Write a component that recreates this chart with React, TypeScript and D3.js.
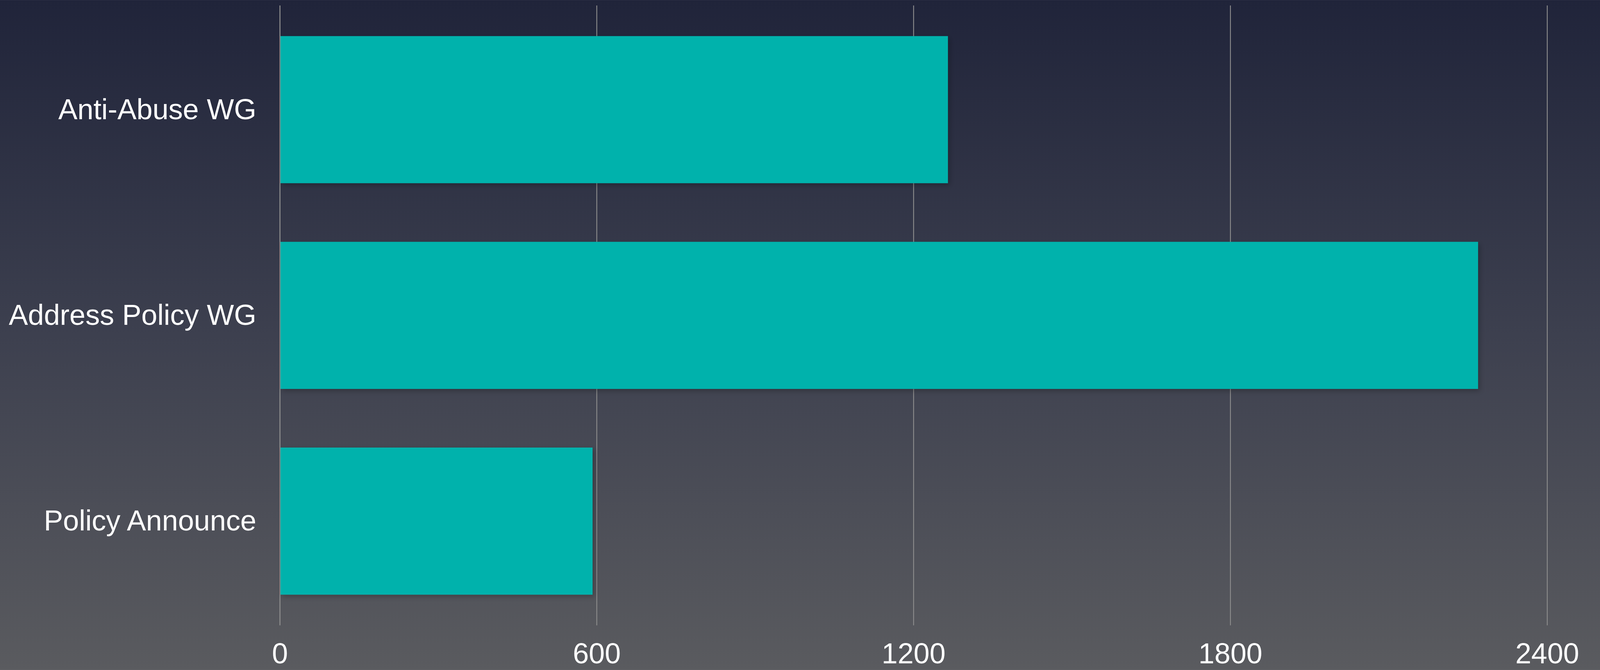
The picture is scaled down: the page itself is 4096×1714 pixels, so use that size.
import * as React from 'react';
import * as d3 from 'd3';

const categories = ['Anti-Abuse WG', 'Address Policy WG', 'Policy Announce'];
const values = [1265, 2269, 592];
const ticks = [0, 600, 1200, 1800, 2400];

// reference size; the viewBox scales it down to the window
const W = 4732;
const H = 1980;
const left = 828;
const right = 4576;
const top = 16;
const bottom = 1848;

export default function App() {
  const x = d3.scaleLinear().domain([0, 2400]).range([left, right]);
  const y = d3
    .scaleBand<string>()
    .domain(categories)
    .range([top, bottom])
    .paddingInner(0.285)
    .paddingOuter(0.149);

  return (
    <svg
      width={4096}
      height={1714}
      viewBox={`0 0 ${W} ${H}`}
      style={{position: 'absolute', left: 0, top: 0, display: 'block'}}
    >
      <defs>
        <linearGradient id="bg" x1="0" y1="0" x2="0" y2="1">
          <stop offset="0%" stopColor="#20243a" />
          <stop offset="50%" stopColor="#3d404f" />
          <stop offset="100%" stopColor="#5a5b5f" />
        </linearGradient>
        <filter id="shadow" x="-5%" y="-10%" width="110%" height="130%">
          <feDropShadow dx="5" dy="6" stdDeviation="8" floodColor="#000" floodOpacity="0.25" />
        </filter>
      </defs>
      <rect width={W} height={H} fill="url(#bg)" />

      <g>
        {ticks.map(t => (
          <line
            key={t}
            x1={x(t)}
            x2={x(t)}
            y1={top}
            y2={bottom}
            stroke="#8c8c8c"
            strokeWidth={t === 0 ? 3 : 2.6}
          />
        ))}
      </g>

      <g filter="url(#shadow)">
        {categories.map((c, i) => (
          <rect
            key={c}
            x={x(0) + 1.5}
            y={y(c)}
            width={x(values[i]) - x(0) - 1.5}
            height={y.bandwidth()}
            fill="#00b2ac"
          />
        ))}
      </g>

      <g fontFamily="'Liberation Sans', Arial, sans-serif" fontSize={85} fill="#ffffff">
        {categories.map(c => (
          <text
            key={c}
            x={left - 70}
            y={(y(c) as number) + y.bandwidth() / 2}
            dy="0.33em"
            textAnchor="end"
          >
            {c}
          </text>
        ))}
        {ticks.map(t => (
          <text key={t} x={x(t)} y={1961} textAnchor="middle">
            {t}
          </text>
        ))}
      </g>
    </svg>
  );
}
